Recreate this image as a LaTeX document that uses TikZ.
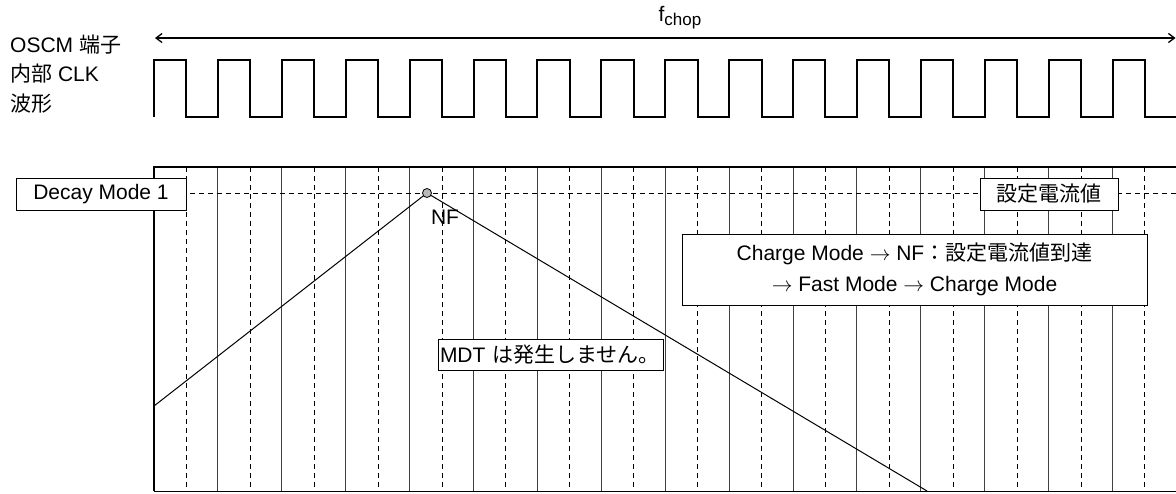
\documentclass[tikz,border=0pt]{standalone}
\usepackage{fontspec}
\setmainfont{Liberation Sans}
\newfontfamily\jp{Noto Sans CJK JP}
\usetikzlibrary{arrows.meta}

\newcommand{\lblfont}{\fontsize{21}{29.5}\selectfont}
\tikzset{
  clk/.style={line width=2pt, line join=miter},
  plotframe/.style={line width=2pt},
  gridsolid/.style={line width=1pt, black!75},
  griddash/.style={line width=1pt, dash pattern=on 5pt off 4pt},
  lblbox/.style={draw, fill=white, line width=1pt, inner sep=0pt, font=\lblfont},
}

\begin{document}
\begin{tikzpicture}[x=1pt, y=-1pt]
  \useasboundingbox (0,0) rectangle (1176,493);

  % Signal name
  \node[anchor=west, align=left, font=\lblfont, inner sep=0pt] (siglbl) at (10,74)
    {OSCM {\jp 端子}\\{\jp 内部} CLK\\{\jp 波形}};

  % Chopping period
  \coordinate (chopl) at (155,38);
  \coordinate (chopr) at (1175.5,38);
  \draw[{Straight Barb[length=6pt,width=9pt]}-{Straight Barb[length=6pt,width=9pt]}, line width=1.3pt] (chopl) -- (chopr);
  \node[font=\lblfont] (fchop) at (680,18) {f{\fontsize{17}{17}\selectfont\raisebox{-4pt}{chop}}};

  % Clock waveform (16 pulses)
  \draw[clk] (154,117)
    \foreach \k in {0,...,15} {
      -- ({154+\k*63.9},117) -- ({154+\k*63.9},60)
      -- ({186.4+\k*63.9},60) -- ({186.4+\k*63.9},117)
    } -- (1176,117);

  % Grid
  \foreach \k in {1,...,15}
    \draw[gridsolid] ({154+\k*63.9},167) -- ({154+\k*63.9},491);
  \foreach \k in {0,...,15}
    \draw[griddash] ({186.4+\k*63.9},167) -- ({186.4+\k*63.9},491);
  \draw[griddash] (154,193) -- (1176,193);

  % Frame
  \draw[plotframe] (154,491) -- (154,167) -- (1176,167);
  \draw[line width=1.5pt] (154,491.5) -- (1176,491.5);

  % Coil current
  \coordinate (rampstart) at (154,406);
  \coordinate (peak) at (427,193);
  \coordinate (rampend) at (927,491);
  \draw[line width=1pt] (rampstart) -- (peak) -- (rampend);
  \node[circle, draw, fill=gray!55, line width=0.8pt, minimum size=9pt, inner sep=0pt] (nfdot) at (peak) {};
  \node[font=\lblfont] (nflbl) at (445,217) {NF};

  % Labels
  \node[lblbox, minimum width=170, minimum height=32] (decay) at (101,194) {Decay Mode 1};
  \node[lblbox, minimum width=138, minimum height=32] (setcur) at (1049,194) {\jp 設定電流値};
  \node[lblbox, minimum width=465, minimum height=71, align=center] (seq) at (914.5,269.5)
    {Charge Mode $\rightarrow$ NF{\jp ：設定電流値到達}\\[1pt]$\rightarrow$ Fast Mode $\rightarrow$ Charge Mode};
  \node[lblbox, minimum width=225, minimum height=31, text width=221, inner xsep=2pt, align=left] (mdt) at (550.5,354.5)
    {MDT {\jp は発生しません。}};
\end{tikzpicture}
\end{document}
